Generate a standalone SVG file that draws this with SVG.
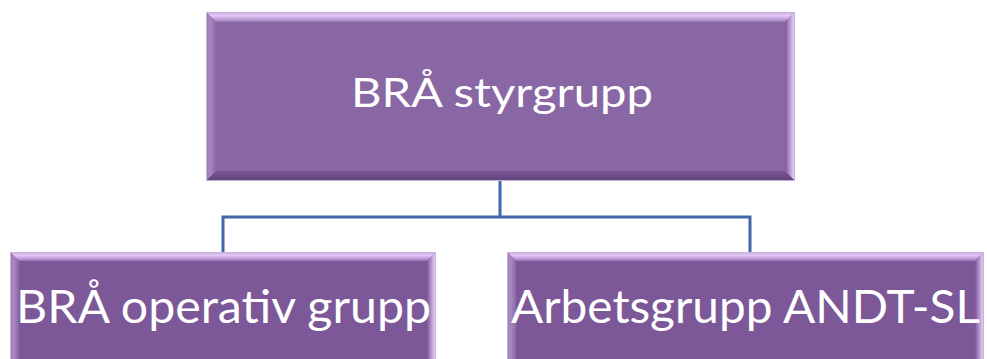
<svg xmlns="http://www.w3.org/2000/svg" width="987" height="359" viewBox="0 0 987 359">
  <defs>
    <linearGradient id="gTop" x1="0" y1="0" x2="0" y2="1">
      <stop offset="0" stop-color="#c4a8dc"/>
      <stop offset="0.35" stop-color="#e4c8fa"/>
      <stop offset="0.7" stop-color="#c2a2dc"/>
      <stop offset="1" stop-color="#9676b2"/>
    </linearGradient>
    <linearGradient id="gLeft" x1="0" y1="0" x2="1" y2="0">
      <stop offset="0" stop-color="#9c7cb8"/>
      <stop offset="0.4" stop-color="#a888c2"/>
      <stop offset="1" stop-color="#8a68a6"/>
    </linearGradient>
    <linearGradient id="gRight" x1="0" y1="0" x2="1" y2="0">
      <stop offset="0" stop-color="#7a5896"/>
      <stop offset="0.5" stop-color="#b89ad2"/>
      <stop offset="1" stop-color="#efe2fb"/>
    </linearGradient>
    <linearGradient id="gBottom" x1="0" y1="0" x2="0" y2="1">
      <stop offset="0" stop-color="#7a5896"/>
      <stop offset="1" stop-color="#5f4279"/>
    </linearGradient>
  </defs>
  <style>
    .bt { fill: url(#gTop); }
    .bl { fill: url(#gLeft); }
    .br { fill: url(#gRight); }
    .bb { fill: url(#gBottom); }
    .edge { fill: none; stroke: #c7b2da; stroke-width: 1; }
    .lbl { font-family: Lato, "Open Sans", "Liberation Sans", sans-serif; fill: #ffffff; text-anchor: middle; }
    .conn { fill: none; stroke: #4267aa; stroke-width: 3; }
  </style>

  <g id="connectors">
    <path class="conn" d="M500,181 V217"/>
    <path class="conn" d="M223,252 V217 H750 V252"/>
  </g>

  <g id="node-styrgrupp">
    <rect x="206" y="12" width="589" height="169" fill="#8966a4"/>
    <polygon class="bt" points="206,12 795,12 785,22 216,22"/>
    <polygon class="bl" points="206,12 216,22 216,171 206,181"/>
    <polygon class="br" points="795,12 795,181 785,171 785,22"/>
    <polygon class="bb" points="206,181 795,181 785,171 216,171"/>
    <rect class="edge" x="206.5" y="12.5" width="588" height="168"/>
    <text class="lbl" x="502" y="107" font-size="40" textLength="302" lengthAdjust="spacingAndGlyphs">BRÅ styrgrupp</text>
  </g>

  <g id="node-operativ">
    <rect x="10" y="252" width="426" height="120" fill="#7c5898"/>
    <polygon class="bt" points="10,252 436,252 427,261 19,261"/>
    <polygon class="bl" points="10,252 19,261 19,363 10,372"/>
    <polygon class="br" points="436,252 436,372 427,363 427,261"/>
    <rect class="edge" x="10.5" y="252.5" width="425" height="119"/>
    <text class="lbl" x="223.5" y="323" font-size="46" textLength="415" lengthAdjust="spacingAndGlyphs">BRÅ operativ grupp</text>
  </g>

  <g id="node-arbetsgrupp">
    <rect x="507" y="252" width="477" height="120" fill="#7c5898"/>
    <polygon class="bt" points="507,252 984,252 975,261 516,261"/>
    <polygon class="bl" points="507,252 516,261 516,363 507,372"/>
    <polygon class="br" points="984,252 984,372 975,363 975,261"/>
    <rect class="edge" x="507.5" y="252.5" width="476" height="119"/>
    <text class="lbl" x="745.5" y="323" font-size="46" textLength="469" lengthAdjust="spacingAndGlyphs">Arbetsgrupp ANDT-SL</text>
  </g>
</svg>
